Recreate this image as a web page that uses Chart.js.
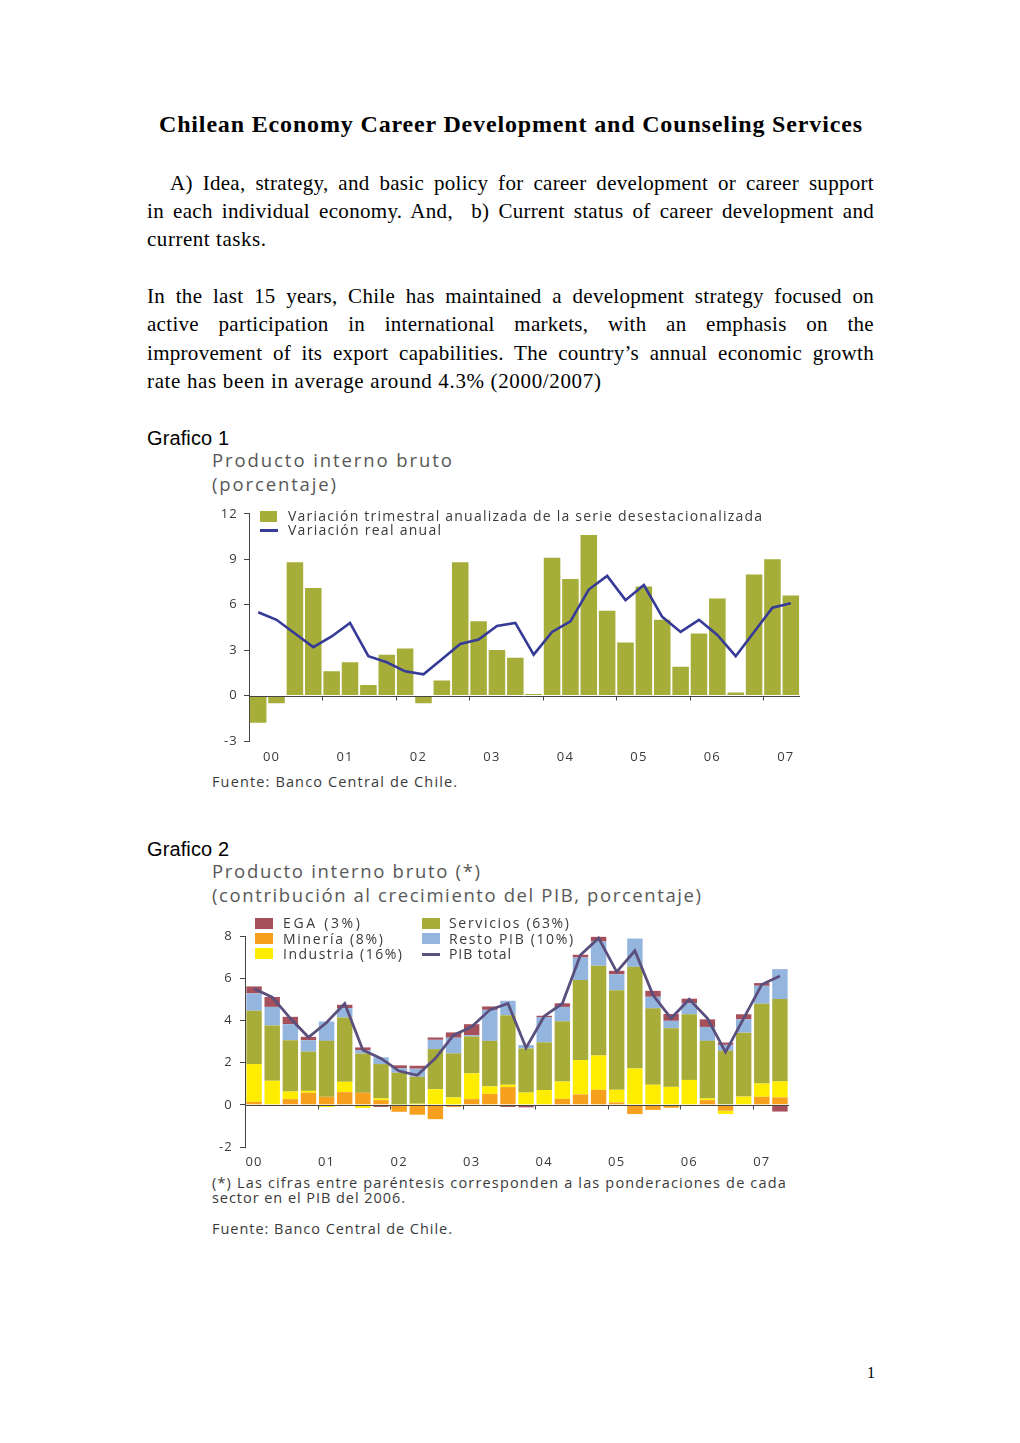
<!DOCTYPE html>
<html>
<head>
<meta charset="utf-8">
<script src="https://cdn.jsdelivr.net/npm/chart.js@4.4.1/dist/chart.umd.min.js"></script>
<style>
  html, body { margin:0; padding:0; background:#fff; }
  #page { position:relative; width:1020px; height:1443px; overflow:hidden; background:#fff; }
  .abs { position:absolute; white-space:nowrap; }
  .serif { font-family:"Liberation Serif","Times New Roman",serif; color:#000; }
  .title { left:159px; font-weight:bold; font-size:24px; line-height:30px; top:109px; }
  .jl { position:absolute; left:147px; width:727px; font-size:21px; line-height:28px; text-align:justify; text-align-last:justify; white-space:normal; letter-spacing:0.3px; }
  .gr { font-family:"Liberation Sans",Arial,sans-serif; font-size:20px; line-height:24px; color:#000; }
  .ct { font-family:"Open Sans",sans-serif; font-size:18.5px; line-height:22px; color:#585858; }
  .lg { font-family:"Open Sans",sans-serif; font-size:14px; line-height:16px; color:#3a3a3a; }
  .nt { font-family:"Open Sans",sans-serif; font-size:14.5px; line-height:16px; color:#3a3a3a; }
  .sq { position:absolute; }
  canvas { position:absolute; }
</style>
</head>
<body>
<div id="page">
  <div class="abs serif title" data-w="703">Chilean Economy Career Development and Counseling Services</div>

  <div class="jl serif" style="top:169px;text-indent:23px;">A) Idea, strategy, and basic policy for career development or career support</div>
  <div class="jl serif" style="top:197px;">in each individual economy. And,&nbsp; b) Current status of career development and</div>
  <div class="abs serif" data-w="119" style="left:147px;top:225px;font-size:21px;line-height:28px;">current tasks.</div>

  <div class="jl serif" style="top:282px;">In the last 15 years, Chile has maintained a development strategy focused on</div>
  <div class="jl serif" style="top:310px;">active participation in international markets, with an emphasis on the</div>
  <div class="jl serif" style="top:339px;">improvement of its export capabilities. The country’s annual economic growth</div>
  <div class="abs serif" data-w="454" style="left:147px;top:367px;font-size:21px;line-height:28px;">rate has been in average around 4.3% (2000/2007)</div>

  <!-- Grafico 1 -->
  <div class="abs gr" data-w="82" style="left:147px;top:426px;">Grafico 1</div>
  <div class="abs ct" data-w="240" style="left:212px;top:449px;">Producto interno bruto</div>
  <div class="abs ct" data-w="124" style="left:212px;top:473px;">(porcentaje)</div>
  <canvas id="c1" width="610" height="270" style="left:200px;top:500px;width:610px;height:270px;"></canvas>
  <div class="sq" style="left:260px;top:511px;width:17px;height:11px;background:#A6AD38;"></div>
  <div class="abs lg" data-w="474" style="left:288px;top:508px;">Variación trimestral anualizada de la serie desestacionalizada</div>
  <div class="sq" style="left:260px;top:529px;width:18px;height:3px;background:#363B98;"></div>
  <div class="abs lg" data-w="153" style="left:288px;top:522px;">Variación real anual</div>
  <div class="abs nt" data-w="245" style="left:212px;top:774px;">Fuente: Banco Central de Chile.</div>

  <!-- Grafico 2 -->
  <div class="abs gr" data-w="82" style="left:147px;top:837px;">Grafico 2</div>
  <div class="abs ct" data-w="268" style="left:212px;top:860px;">Producto interno bruto (*)</div>
  <div class="abs ct" data-w="489" style="left:212px;top:884px;">(contribución al crecimiento del PIB, porcentaje)</div>
  <canvas id="c2" width="600" height="250" style="left:200px;top:920px;width:600px;height:250px;"></canvas>
  <div class="sq" style="left:255px;top:918px;width:18px;height:11px;background:#A5505A;"></div>
  <div class="abs lg" data-w="77" style="left:283px;top:915px;">EGA (3%)</div>
  <div class="sq" style="left:255px;top:933px;width:18px;height:11px;background:#F6A01E;"></div>
  <div class="abs lg" data-w="100" style="left:283px;top:931px;">Minería (8%)</div>
  <div class="sq" style="left:255px;top:948px;width:18px;height:11px;background:#FFED00;"></div>
  <div class="abs lg" data-w="119" style="left:283px;top:946px;">Industria (16%)</div>
  <div class="sq" style="left:422px;top:918px;width:18px;height:11px;background:#A8AD3A;"></div>
  <div class="abs lg" data-w="120" style="left:449px;top:915px;">Servicios (63%)</div>
  <div class="sq" style="left:422px;top:933px;width:18px;height:11px;background:#94B5DD;"></div>
  <div class="abs lg" data-w="124" style="left:449px;top:931px;">Resto PIB (10%)</div>
  <div class="sq" style="left:422px;top:953px;width:18px;height:3px;background:#5B4F7D;"></div>
  <div class="abs lg" data-w="62" style="left:449px;top:946px;">PIB total</div>
  <div class="abs nt" data-w="574" style="left:212px;top:1175px;">(*) Las cifras entre paréntesis corresponden a las ponderaciones de cada</div>
  <div class="abs nt" data-w="193" style="left:212px;top:1190px;">sector en el PIB del 2006.</div>
  <div class="abs nt" data-w="240" style="left:212px;top:1221px;">Fuente: Banco Central de Chile.</div>

  <div class="abs serif" style="left:867px;top:1363px;font-size:16px;line-height:20px;">1</div>
</div>

<script>
// ---------- DATA ----------
const quarters = ['2000T1','2000T2','2000T3','2000T4','2001T1','2001T2','2001T3','2001T4',
  '2002T1','2002T2','2002T3','2002T4','2003T1','2003T2','2003T3','2003T4',
  '2004T1','2004T2','2004T3','2004T4','2005T1','2005T2','2005T3','2005T4',
  '2006T1','2006T2','2006T3','2006T4','2007T1','2007T2'];
const yearLabels = ['00','01','02','03','04','05','06','07'];

// Grafico 1
const variacionTrimestral = [-1.8, -0.5, 8.8, 7.1, 1.6, 2.2, 0.7, 2.7, 3.1, -0.5, 1.0, 8.8,
  4.9, 3.0, 2.5, 0.1, 9.1, 7.7, 10.6, 5.6, 3.5, 7.2, 5.0, 1.9, 4.1, 6.4, 0.2, 8.0, 9.0, 6.6];
const variacionAnual = [5.5, 5.0, 4.1, 3.2, 3.9, 4.8, 2.6, 2.2, 1.6, 1.4, 2.4, 3.4,
  3.7, 4.6, 4.8, 2.7, 4.2, 4.9, 7.0, 7.9, 6.3, 7.3, 5.2, 4.2, 5.0, 4.0, 2.6, 4.2, 5.8, 6.1];
const ticks1 = [-3, 0, 3, 6, 9, 12];

// Grafico 2
const mineria = [0.14, -0.05, 0.27, 0.57, 0.38, 0.60, 0.57, 0.22, -0.33, -0.47, -0.68, -0.10,
  0.27, 0.52, 0.84, 0.00, 0.00, 0.28, 0.49, 0.71, 0.11, -0.44, -0.24, -0.14, 0.00, 0.22, -0.28, 0.00, 0.38, 0.35];
const industria = [1.79, 1.14, 0.36, 0.09, -0.10, 0.49, -0.15, 0.08, 0.02, 0.05, 0.74, 0.35,
  1.22, 0.35, 0.11, 0.58, 0.70, 0.82, 1.63, 1.63, 0.60, 1.72, 0.95, 0.85, 1.18, 0.08, -0.16, 0.39, 0.63, 0.76];
const servicios = [2.53, 2.62, 2.43, 1.86, 2.65, 3.05, 1.86, 1.63, 1.50, 1.28, 1.90, 2.09,
  1.75, 2.16, 3.30, 2.09, 2.26, 2.86, 3.79, 4.25, 4.72, 4.82, 3.62, 2.78, 3.11, 2.73, 2.56, 3.03, 3.78, 3.90];
const restoPIB = [0.82, 0.88, 0.76, 0.54, 0.92, 0.44, 0.16, 0.32, 0.22, 0.38, 0.44, 0.74,
  0.06, 1.47, 0.68, 0.16, 1.20, 0.68, 1.07, 1.15, 0.76, 1.34, 0.55, 0.35, 0.52, 0.66, 0.28, 0.63, 0.85, 1.42];
const ega = [0.33, 0.47, 0.35, 0.16, 0.00, 0.16, 0.13, -0.10, 0.13, 0.14, 0.11, 0.25,
  0.52, 0.16, -0.10, -0.12, 0.06, 0.17, 0.13, 0.22, 0.16, 0.00, 0.28, 0.32, 0.22, 0.36, 0.11, 0.24, 0.13, -0.32];
const pibTotal = [5.5, 5.1, 4.1, 3.2, 3.9, 4.8, 2.6, 2.2, 1.6, 1.4, 2.2, 3.3,
  3.7, 4.5, 4.8, 2.7, 4.2, 4.8, 7.1, 7.9, 6.3, 7.3, 5.2, 4.1, 5.0, 4.1, 2.5, 4.1, 5.7, 6.1];
const ticks2 = [-2, 0, 2, 4, 6, 8];

// ---------- fit letter spacing of html texts ----------
document.querySelectorAll('[data-w]').forEach(el => {
  const target = +el.dataset.w;
  el.style.letterSpacing = '0px';
  const w = el.getBoundingClientRect().width;
  const n = [...el.textContent].length;
  if (n > 1) el.style.letterSpacing = ((target - w) / (n - 1)).toFixed(2) + 'px';
});

// ---------- charts ----------
const txtColor = '#3a3a3a';
const tickFont = { family: 'Open Sans', size: 13 };

const spacingPlugin = {
  id: 'spacing',
  beforeLayout(chart) { chart.ctx.letterSpacing = '1.2px'; },
  beforeDraw(chart) { chart.ctx.letterSpacing = '1.2px'; }
};

const zeroAxis = {
  id: 'zeroAxis',
  afterDatasetsDraw(chart, args, opts) {
    const { ctx, chartArea, scales: { x, y } } = chart;
    const y0 = Math.round(y.getPixelForValue(0)) + 0.5;
    ctx.save();
    ctx.strokeStyle = opts.color || '#444';
    ctx.lineWidth = 1;
    ctx.beginPath();
    ctx.moveTo(chartArea.left, y0);
    ctx.lineTo(chartArea.right, y0);
    const n = chart.data.labels.length;
    for (let i = 4; i < n; i += 4) {
      const xb = Math.round((x.getPixelForValue(i - 1) + x.getPixelForValue(i)) / 2) + 0.5;
      ctx.moveTo(xb, y0);
      ctx.lineTo(xb, y0 + (opts.tick || 4));
    }
    ctx.stroke();
    ctx.restore();
  }
};

new Chart(document.getElementById('c1'), {
  type: 'bar',
  data: {
    labels: quarters,
    datasets: [
      { type: 'line', label: 'Variación real anual', data: variacionAnual,
        borderColor: '#363B98', borderWidth: 2.6, pointRadius: 0, tension: 0, order: 0 },
      { type: 'bar', label: 'Variación trimestral anualizada de la serie desestacionalizada',
        data: variacionTrimestral, backgroundColor: '#A6AD38',
        barPercentage: 0.9, categoryPercentage: 1, order: 1 }
    ]
  },
  options: {
    responsive: false, animation: false, devicePixelRatio: 1,
    layout: { padding: { top: 11, right: 10, left: 0, bottom: 0 } },
    plugins: { legend: { display: false }, tooltip: { enabled: false },
      zeroAxis: { color: '#444', tick: 4 } },
    scales: {
      x: {
        grid: { display: false, drawTicks: false }, border: { display: false },
        ticks: { autoSkip: false, maxRotation: 0, minRotation: 0, padding: 8, labelOffset: -5,
          color: txtColor, font: tickFont,
          callback: (v, i) => (i % 4 === 1 ? yearLabels[Math.floor(i / 4)] : '') },
        afterFit: s => { s.height = 29; }
      },
      y: {
        min: -3, max: 12,
        afterBuildTicks: s => { s.ticks = ticks1.map(v => ({ value: v })); },
        ticks: { padding: 6, color: txtColor, font: tickFont },
        grid: { drawOnChartArea: false, tickLength: 5, color: '#444' },
        border: { color: '#444' },
        afterFit: s => { s.width = 49; }
      }
    }
  },
  plugins: [spacingPlugin, zeroAxis]
});

new Chart(document.getElementById('c2'), {
  type: 'bar',
  data: {
    labels: quarters,
    datasets: [
      { type: 'line', label: 'PIB total', data: pibTotal, stack: 'total',
        borderColor: '#5B4F7D', borderWidth: 2.8, pointRadius: 0, tension: 0, order: 0 },
      { label: 'Minería (8%)', data: mineria, backgroundColor: '#F6A01E', stack: 's', order: 1 },
      { label: 'Industria (16%)', data: industria, backgroundColor: '#FFED00', stack: 's', order: 1 },
      { label: 'Servicios (63%)', data: servicios, backgroundColor: '#A8AD3A', stack: 's', order: 1 },
      { label: 'Resto PIB (10%)', data: restoPIB, backgroundColor: '#94B5DD', stack: 's', order: 1 },
      { label: 'EGA (3%)', data: ega, backgroundColor: '#A5505A', stack: 's', order: 1 }
    ]
  },
  options: {
    responsive: false, animation: false, devicePixelRatio: 1,
    datasets: { bar: { barPercentage: 0.85, categoryPercentage: 1 } },
    layout: { padding: { top: 16, right: 11, left: 0, bottom: 0 } },
    plugins: { legend: { display: false }, tooltip: { enabled: false },
      zeroAxis: { color: '#444', tick: 4 } },
    scales: {
      x: {
        stacked: true,
        grid: { display: false, drawTicks: false }, border: { display: false },
        ticks: { autoSkip: false, maxRotation: 0, minRotation: 0, padding: 7,
          color: txtColor, font: tickFont,
          callback: (v, i) => (i % 4 === 0 ? yearLabels[i / 4] : '') },
        afterFit: s => { s.height = 23; }
      },
      y: {
        stacked: true, min: -2, max: 8,
        afterBuildTicks: s => { s.ticks = ticks2.map(v => ({ value: v })); },
        ticks: { padding: 7, color: txtColor, font: tickFont },
        grid: { drawOnChartArea: false, tickLength: 5, color: '#444' },
        border: { color: '#444' },
        afterFit: s => { s.width = 45; }
      }
    }
  },
  plugins: [spacingPlugin, zeroAxis]
});
</script>
</body>
</html>
